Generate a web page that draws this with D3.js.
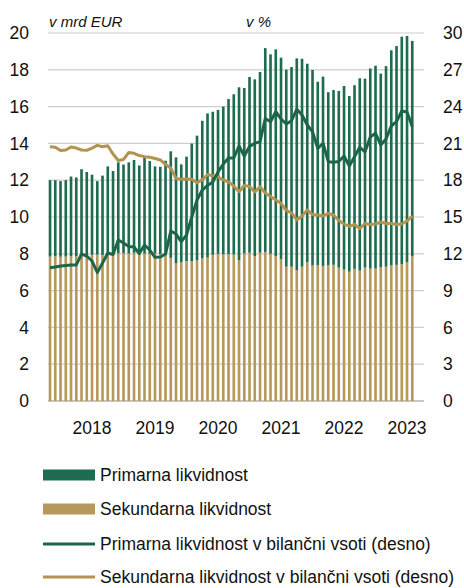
<!DOCTYPE html>
<html>
<head>
<meta charset="utf-8">
<script src="https://cdn.jsdelivr.net/npm/d3@7"></script>
<style>
  body { margin: 0; background: #fff; }
  svg { display: block; font-family: "Liberation Sans", Arial, sans-serif; }
</style>
</head>
<body>
<script>

    // months May 2017 - Feb 2023
    var months = [
        "2017-05","2017-06","2017-07","2017-08","2017-09","2017-10","2017-11","2017-12",
        "2018-01","2018-02","2018-03","2018-04","2018-05","2018-06","2018-07","2018-08","2018-09","2018-10","2018-11","2018-12",
        "2019-01","2019-02","2019-03","2019-04","2019-05","2019-06","2019-07","2019-08","2019-09","2019-10","2019-11","2019-12",
        "2020-01","2020-02","2020-03","2020-04","2020-05","2020-06","2020-07","2020-08","2020-09","2020-10","2020-11","2020-12",
        "2021-01","2021-02","2021-03","2021-04","2021-05","2021-06","2021-07","2021-08","2021-09","2021-10","2021-11","2021-12",
        "2022-01","2022-02","2022-03","2022-04","2022-05","2022-06","2022-07","2022-08","2022-09","2022-10","2022-11","2022-12",
        "2023-01","2023-02"
    ];

    // v mrd EUR
    var primary = [
        4.15,4.14,4.11,4.15,4.33,4.29,4.72,4.52,4.35,3.99,4.31,4.78,4.50,4.94,4.81,4.95,5.05,4.78,5.24,5.04,
        4.73,4.75,5.06,5.79,5.74,5.31,5.68,6.39,6.77,7.48,7.83,7.77,7.82,8.03,8.43,8.71,9.39,8.99,9.55,9.60,
        9.82,11.08,10.84,11.23,10.94,10.71,10.85,11.50,11.30,10.79,10.63,9.96,10.29,9.39,9.50,9.60,9.98,9.55,9.98,10.45,
        10.27,10.87,11.02,10.51,10.90,11.69,11.89,12.36,12.29,11.69
    ];
    var secondary = [
        7.85,7.86,7.84,7.85,7.87,7.86,7.88,7.93,7.95,7.96,7.94,7.97,8.00,8.03,8.04,8.02,8.05,8.02,8.01,8.00,
        8.02,7.98,8.00,7.78,7.50,7.55,7.60,7.60,7.65,7.75,7.80,7.95,8.00,7.97,7.98,7.96,7.66,8.02,8.06,7.88,
        8.06,8.10,8.00,7.88,7.72,7.30,7.30,7.12,7.30,7.54,7.36,7.39,7.34,7.39,7.40,7.25,7.14,7.03,7.18,7.09,
        7.25,7.20,7.20,7.28,7.30,7.37,7.40,7.44,7.55,7.88
    ];

    // v % (desno)
    var primaryShare = [
        10.87,10.92,11.00,11.05,11.09,11.09,11.98,11.82,11.41,10.48,11.25,12.06,11.94,13.12,12.88,12.60,12.55,12.02,12.72,12.31,
        11.71,11.74,11.98,13.86,13.61,12.99,13.53,15.00,16.39,17.20,17.57,17.85,18.67,19.32,19.81,19.81,20.79,19.97,20.75,21.00,
        21.14,23.03,22.77,23.58,22.99,22.58,22.85,23.78,23.31,22.50,21.95,20.60,21.01,19.51,19.46,19.52,19.97,19.16,19.92,20.68,
        20.32,21.52,21.82,20.87,21.36,22.42,22.78,23.64,23.56,22.36
    ];
    var secondaryShare = [
        20.73,20.68,20.42,20.46,20.71,20.62,20.46,20.44,20.62,20.84,20.73,20.81,20.14,19.61,19.69,20.26,20.19,20.01,19.92,19.87,
        19.77,19.65,19.28,18.99,18.14,18.07,18.10,18.07,17.80,18.02,18.46,18.37,18.26,18.02,17.85,17.53,17.06,17.57,17.49,17.04,
        17.47,16.96,16.67,16.39,16.12,15.53,15.33,14.76,15.08,15.57,15.20,15.16,15.08,15.30,15.16,14.71,14.43,14.23,14.39,14.06,
        14.47,14.39,14.43,14.59,14.47,14.47,14.39,14.43,14.67,15.08
    ];

    var leftTicks = [0, 2, 4, 6, 8, 10, 12, 14, 16, 18, 20];
    var rightTicks = [0, 3, 6, 9, 12, 15, 18, 21, 24, 27, 30];
    var yearTicks = ["2018-01","2019-01","2020-01","2021-01","2022-01","2023-01"];

    var legendLabels = [
        "Primarna likvidnost",
        "Sekundarna likvidnost",
        "Primarna likvidnost v bilančni vsoti (desno)",
        "Sekundarna likvidnost v bilančni vsoti (desno)"
    ];

    var green = "#1e6c4f", tan = "#b6985a";
    var lineGreen = "#1b6649", lineTan = "#b39350";

    var plot = {left: 48, right: 424, top: 33, bottom: 401};

    var svg = d3.select("body")
        .append("svg")
        .attr("width", 464)
        .attr("height", 588);

    var data = months.map(function(m, i) {
        return {month: m, primary: primary[i], secondary: secondary[i]};
    });

    var x = d3.scaleBand()
        .domain(months)
        .range([47.4, 414.9])
        .paddingInner(0.5)
        .paddingOuter(0.25);

    var y = d3.scaleLinear().domain([0, 20]).range([plot.bottom, plot.top]);
    var y2 = d3.scaleLinear().domain([0, 30]).range([plot.bottom, plot.top]);

    // gridlines
    svg.append("g")
        .selectAll("line")
        .data(leftTicks)
        .enter().append("line")
        .attr("x1", plot.left)
        .attr("x2", plot.right)
        .attr("y1", function(d) { return y(d); })
        .attr("y2", function(d) { return y(d); })
        .attr("stroke", function(d) { return d === 0 ? "#b4b4b4" : "#cdcdcd"; })
        .attr("stroke-width", function(d) { return d === 0 ? 1.6 : 1.2; });

    // stacked bars
    var stack = d3.stack().keys(["secondary", "primary"])(data);
    var colors = [tan, green];

    svg.selectAll("g.layer")
        .data(stack)
        .enter().append("g")
        .attr("class", "layer")
        .style("fill", function(d, i) { return colors[i]; })
        .selectAll("rect")
        .data(function(d) { return d; })
        .enter().append("rect")
        .attr("x", function(d) { return x(d.data.month); })
        .attr("y", function(d) { return y(d[1]); })
        .attr("height", function(d) { return y(d[0]) - y(d[1]); })
        .attr("width", x.bandwidth());

    // lines on right axis
    var line = d3.line()
        .x(function(d, i) { return x(months[i]) + x.bandwidth() / 2; })
        .y(function(d) { return y2(d); });

    svg.append("path")
        .datum(secondaryShare)
        .attr("d", line)
        .attr("fill", "none")
        .attr("stroke", lineTan)
        .attr("stroke-width", 3)
        .attr("stroke-linejoin", "round");

    svg.append("path")
        .datum(primaryShare)
        .attr("d", line)
        .attr("fill", "none")
        .attr("stroke", lineGreen)
        .attr("stroke-width", 3)
        .attr("stroke-linejoin", "round");

    // axes
    var yAxis = d3.axisLeft(y).tickValues(leftTicks).tickSize(0).tickPadding(19);
    var y2Axis = d3.axisRight(y2).tickValues(rightTicks).tickSize(0).tickPadding(19);
    var xAxis = d3.axisBottom(x)
        .tickValues(yearTicks)
        .tickSize(0)
        .tickPadding(21)
        .tickFormat(function(d) { return d.slice(0, 4); });

    [
        svg.append("g").attr("transform", "translate(" + plot.left + ",0)").call(yAxis),
        svg.append("g").attr("transform", "translate(" + plot.right + ",0)").call(y2Axis),
        svg.append("g").attr("transform", "translate(0," + plot.bottom + ")").call(xAxis)
    ].forEach(function(g) {
        g.select(".domain").remove();
        g.selectAll("text")
            .attr("fill", "#111")
            .style("font-size", "17.5px")
            .style("font-family", "'Liberation Sans', Arial, sans-serif");
    });

    // unit labels
    svg.append("text")
        .attr("x", 49)
        .attr("y", 27)
        .style("font-size", "15px")
        .style("font-style", "italic")
        .attr("fill", "#111")
        .text("v mrd EUR");

    svg.append("text")
        .attr("x", 246)
        .attr("y", 27)
        .style("font-size", "15px")
        .style("font-style", "italic")
        .attr("fill", "#111")
        .text("v %");

    // legend
    var legendY = [475, 509, 544, 577];
    var legend = svg.selectAll(".legend")
        .data(legendLabels)
        .enter().append("g")
        .attr("class", "legend")
        .attr("transform", function(d, i) { return "translate(0," + legendY[i] + ")"; });

    legend.each(function(d, i) {
        var g = d3.select(this);
        if (i < 2) {
            g.append("rect")
                .attr("x", 43)
                .attr("y", -5.5)
                .attr("width", 52)
                .attr("height", 11)
                .attr("fill", i === 0 ? green : tan);
        } else {
            g.append("line")
                .attr("x1", 43)
                .attr("x2", 95)
                .attr("stroke", i === 2 ? lineGreen : lineTan)
                .attr("stroke-width", 3);
        }
    });

    legend.append("text")
        .attr("x", 100)
        .attr("dy", "0.35em")
        .style("font-size", "17.5px")
        .attr("fill", "#111")
        .text(function(d) { return d; });

</script>
</body>
</html>
